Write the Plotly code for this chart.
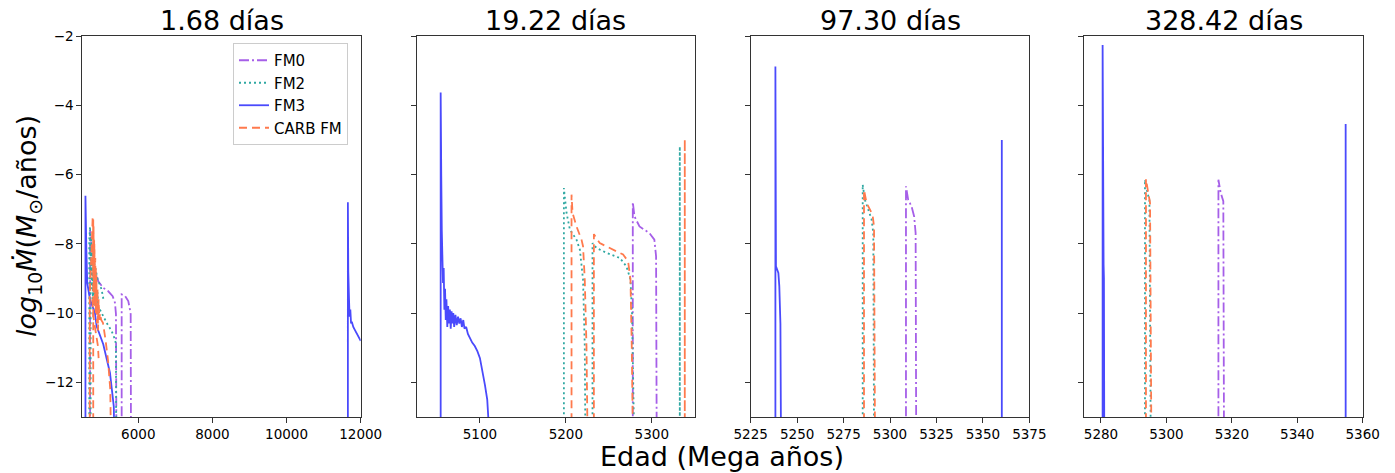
import plotly.graph_objects as go

# ---------------- data ----------------
TITLES = ["1.68 días", "19.22 días", "97.30 días", "328.42 días"]
SERIES = ["FM0", "FM2", "FM3", "CARB FM"]
N = None

# Panel 1 (1.68 días)
P1_FM0_X = [4700, 4700, 4760, 4820, 4920, 5055, 5190, 5309, 5371, 5398, 5410, N,
            5552, 5552, 5641, 5730, 5776, 5795, 5803]
P1_FM0_Y = [-13.5, -7.6, -8.3, -8.7, -9.08, -9.27, -9.37, -9.51, -9.7, -10.03, -13.5, N,
            -13.5, -9.46, -9.5, -9.65, -9.9, -10.03, -13.5]
P1_FM2_X = [4678, 4678, 4700, 4715, 4730, 4745, 4760, 4775, 4790, 4805, 4820, 4840, 4860,
            4880, 4900, 4930, 4966, 5050, 5147, 5282, 5371, 5398, 5405, N,
            4715, 4715, 4760, 4831, 4900, 5011, 5060]
P1_FM2_Y = [-13.5, -7.9, -7.5, -8.9, -7.8, -9.3, -8.1, -9.6, -8.5, -9.8, -8.8, -9.9, -9.1,
            -10.0, -9.4, -10.0, -9.9, -10.1, -10.28, -10.52, -10.76, -10.9, -13.5, N,
            -13.5, -8.0, -8.3, -8.65, -9.0, -9.32, -9.6]
P1_FM3_X = [4575, 4575, 4600, 4623, 4696, 4831, 4877, 5055, 5236, 5309, 5340, 5352, N,
            11654, 11654, 11665, 11685, 11700, 11720, 11740, 11760, 11800, 11849, 11900, 11984, 12000]
P1_FM3_Y = [-13.5, -6.61, -8.2, -9.13, -9.6, -10.0, -10.38, -10.9, -11.72, -12.3, -12.7, -13.5, N,
            -13.5, -6.8, -8.8, -9.6, -10.1, -9.9, -10.3, -10.25, -10.4, -10.5, -10.6, -10.76, -10.8]
P1_CARB_X = [4690, 4690, 4740, 4770, 4780, 4790, 4800, 4810, 4825, 4840, 4855, 4870, 4885,
             4900, 4915, 4930, 4950, 4970, 5000, 5047, 5120, 5182, 5244, 5255, 5262, N,
             4760, 4790, 4830, 4870, 4912, 4930, N,
             4785, 4785, 4800, 4815, 4830, 4850, 4870]
P1_CARB_Y = [-13.5, -9.5, -8.2, -7.2, -8.8, -7.5, -9.4, -7.9, -9.8, -8.4, -10.0, -8.9, -10.3,
             -9.3, -10.5, -9.6, -10.2, -10.0, -10.2, -10.28, -10.8, -11.34, -12.2, -12.6, -13.5, N,
             -9.6, -10.1, -10.4, -10.7, -10.95, -11.3, N,
             -13.5, -7.3, -8.6, -8.0, -9.2, -8.7, -9.5]

# Panel 2 (19.22 días)
P2_FM0_X = [5277.9, 5277.9, 5279.9, 5285.7, 5297.3, 5303.0, 5305.0, 5305.7]
P2_FM0_Y = [-13.5, -6.8, -7.21, -7.5, -7.69, -7.88, -8.36, -13.5]
P2_FM2_X = [5197.7, 5197.7, 5200.8, 5204.7, 5212.4, 5216.3, 5220.0, 5222.0, 5222.7, N,
            5231.0, 5231.0, 5235.7, 5247.3, 5262.8, 5270.5, 5275.2, 5277.0, 5279.4, N,
            5332.6, 5332.6, 5332.6]
P2_FM2_Y = [-13.5, -6.39, -7.11, -7.59, -7.88, -8.17, -9.03, -10.95, -13.5, N,
            -13.5, -7.98, -8.12, -8.26, -8.41, -8.65, -9.03, -9.99, -13.5, N,
            -13.5, -5.19, -13.5]
P2_FM3_X = [5054.3, 5054.3, 5055.0, 5055.6, 5056.2, 5057.0, 5057.8, 5058.6, 5059.4, 5060.2,
            5061.0, 5062.0, 5063.0, 5064.0, 5065.0, 5066.0, 5067.0, 5068.0, 5069.0, 5070.0,
            5071.5, 5073.0, 5074.5, 5076.0, 5077.5, 5079.0, 5080.6, 5082.0, 5084.0, 5086.0,
            5088.0, 5091.0, 5094.0, 5097.0, 5100.0, 5103.0, 5105.8, 5108.5, 5110.9]
P2_FM3_Y = [-13.5, -3.63, -6.05, -7.6, -8.4, -9.13, -8.7, -9.9, -9.3, -10.2,
            -9.6, -10.4, -9.8, -10.3, -9.9, -10.45, -9.95, -10.3, -10.0, -10.4,
            -10.05, -10.35, -10.1, -10.3, -10.15, -10.4, -10.2, -10.45, -10.4, -10.6,
            -10.7, -10.85, -10.95, -11.1, -11.3, -11.65, -12.07, -12.5, -13.5]
P2_CARB_X = [5206.6, 5206.6, 5207.8, 5212.4, 5218.2, 5220.0, 5222.0, 5224.0, 5225.2, N,
             5232.6, 5232.6, 5239.5, 5251.0, 5266.6, 5272.4, 5275.2, 5276.7, 5278.0, N,
             5338.4, 5338.4, 5338.4]
P2_CARB_Y = [-13.5, -6.58, -7.11, -7.5, -7.88, -8.07, -9.03, -10.95, -13.5, N,
             -13.5, -7.72, -7.98, -8.12, -8.31, -8.5, -9.03, -10.95, -13.5, N,
             -13.5, -4.98, -13.5]

# Panel 3 (97.30 días)
P3_FM0_X = [5308.6, 5308.6, 5309.8, 5311.6, 5313.0, 5313.8, 5314.1]
P3_FM0_Y = [-13.5, -6.34, -6.73, -6.92, -7.21, -7.69, -13.5]
P3_FM2_X = [5285.3, 5285.3, 5286.5, 5288.3, 5290.1, 5291.0, 5291.4]
P3_FM2_Y = [-13.5, -6.29, -6.73, -7.01, -7.3, -7.69, -13.5]
P3_FM3_X = [5238.3, 5238.3, 5238.6, 5239.9, 5240.4, 5241.0, 5241.3, N,
            5360.2, 5360.2, 5360.2]
P3_FM3_Y = [-13.5, -2.88, -8.65, -8.84, -9.22, -10.3, -13.5, N,
            -13.5, -5.0, -13.5]
P3_CARB_X = [5286.0, 5286.0, 5287.4, 5289.2, 5290.6, 5291.4, 5291.9]
P3_CARB_Y = [-13.5, -6.44, -6.82, -7.01, -7.16, -7.5, -13.5]

# Panel 4 (328.42 días)
P4_FM0_X = [5315.9, 5315.9, 5316.6, 5317.4, 5317.6]
P4_FM0_Y = [-13.5, -6.15, -6.53, -6.77, -13.5]
P4_FM2_X = [5293.45, 5293.45, 5294.2, 5294.8, 5295.2]
P4_FM2_Y = [-13.5, -6.15, -6.53, -6.73, -13.5]
P4_FM3_X = [5280.5, 5280.5, 5280.8, 5280.9, 5281.0, N, 5354.8, 5354.8, 5354.8]
P4_FM3_Y = [-13.5, -2.26, -8.6, -9.0, -13.5, N, -13.5, -4.54, -13.5]
P4_CARB_X = [5293.75, 5293.75, 5294.3, 5295.0, 5295.4]
P4_CARB_Y = [-13.5, -6.13, -6.44, -6.82, -13.5]

PANELS = [
    {"FM0": (P1_FM0_X, P1_FM0_Y), "FM2": (P1_FM2_X, P1_FM2_Y),
     "FM3": (P1_FM3_X, P1_FM3_Y), "CARB FM": (P1_CARB_X, P1_CARB_Y)},
    {"FM0": (P2_FM0_X, P2_FM0_Y), "FM2": (P2_FM2_X, P2_FM2_Y),
     "FM3": (P2_FM3_X, P2_FM3_Y), "CARB FM": (P2_CARB_X, P2_CARB_Y)},
    {"FM0": (P3_FM0_X, P3_FM0_Y), "FM2": (P3_FM2_X, P3_FM2_Y),
     "FM3": (P3_FM3_X, P3_FM3_Y), "CARB FM": (P3_CARB_X, P3_CARB_Y)},
    {"FM0": (P4_FM0_X, P4_FM0_Y), "FM2": (P4_FM2_X, P4_FM2_Y),
     "FM3": (P4_FM3_X, P4_FM3_Y), "CARB FM": (P4_CARB_X, P4_CARB_Y)},
]

X_RANGES = [[4490, 12000], [5026.4, 5350.3], [5225, 5375], [5274.9, 5360.1]]
X_TICKS = [[6000, 8000, 10000, 12000], [5100, 5200, 5300],
           [5225, 5250, 5275, 5300, 5325, 5350, 5375], [5280, 5300, 5320, 5340, 5360]]
Y_RANGE = [-13, -2]
Y_TICKS = [-12, -10, -8, -6, -4, -2]

# ---------------- styling ----------------
STYLE = {
    "FM0": dict(color="#a65fe8", dash="10px,3px,2px,3px"),
    "FM2": dict(color="#2fa8a2", dash="2px,3px"),
    "FM3": dict(color="#4a4afc", dash="solid"),
    "CARB FM": dict(color="#ff7a4d", dash="8px,5px"),
}
FONT = "DejaVu Sans"
W, H = 1395, 473
DOMX = [(82.3, 360.7), (416.7, 695.0), (750.7, 1029.3), (1084.3, 1363.0)]
DOMY = (1 - 417 / H, 1 - 36 / H)

fig = go.Figure()
for i, panel in enumerate(PANELS):
    sfx = "" if i == 0 else str(i + 1)
    for name in SERIES:
        xs, ys = panel[name]
        st = STYLE[name]
        fig.add_trace(go.Scatter(
            x=xs, y=ys, mode="lines", name=name,
            showlegend=(i == 0), connectgaps=False,
            line=dict(color=st["color"], dash=st["dash"], width=1.8),
            xaxis="x" + sfx, yaxis="y" + sfx, hoverinfo="skip"))

layout = dict(
    width=W, height=H, margin=dict(l=0, r=0, t=0, b=0, autoexpand=False),
    autosize=False,
    paper_bgcolor="white", plot_bgcolor="white",
    font=dict(family=FONT, size=13.5, color="black"),
    showlegend=True,
    legend=dict(x=233 / W, y=1 - 43 / H, xanchor="left", yanchor="top",
                bgcolor="rgba(255,255,255,0.85)", bordercolor="#cccccc", borderwidth=1,
                font=dict(family=FONT, size=15)),
)
annotations = []
for i in range(4):
    sfx = "" if i == 0 else str(i + 1)
    x0, x1 = DOMX[i]
    layout["xaxis" + sfx] = dict(
        domain=[x0 / W, x1 / W], range=X_RANGES[i], tickvals=X_TICKS[i], tickformat="d",
        anchor="y" + sfx, showline=True, linecolor="#333333", linewidth=1, mirror=True,
        ticks="outside", ticklen=5, tickcolor="#333333", showgrid=False, zeroline=False,
        automargin=False, tickfont=dict(family=FONT, size=13.5))
    layout["yaxis" + sfx] = dict(
        domain=list(DOMY), range=Y_RANGE, tickvals=Y_TICKS, anchor="x" + sfx,
        showline=True, linecolor="#333333", linewidth=1, mirror=True,
        ticks="outside", ticklen=5, tickcolor="#333333", showgrid=False, zeroline=False,
        automargin=False, showticklabels=(i == 0), tickfont=dict(family=FONT, size=13.5))
    annotations.append(dict(
        text=TITLES[i], x=(x0 + x1) / 2 / W, y=1 - 20 / H, xref="paper", yref="paper",
        xanchor="center", yanchor="middle", showarrow=False,
        font=dict(family=FONT, size=27, color="black")))

annotations.append(dict(
    text="Edad (Mega años)", x=722.5 / W, y=1 - 456 / H, xref="paper", yref="paper",
    xanchor="center", yanchor="middle", showarrow=False,
    font=dict(family=FONT, size=27, color="black")))
annotations.append(dict(
    text="<i>log</i><sub>10</sub><i>Ṁ</i>(<i>M</i><sub>⊙</sub>/años)",
    x=28 / W, y=1 - 226 / H, xref="paper", yref="paper", textangle=-90,
    xanchor="center", yanchor="middle", showarrow=False,
    font=dict(family=FONT, size=27, color="black")))
layout["annotations"] = annotations
fig.update_layout(**layout)
fig.write_html("out.html", config={"displayModeBar": False},
               post_script="document.body.style.margin='0';document.body.style.padding='0';")
